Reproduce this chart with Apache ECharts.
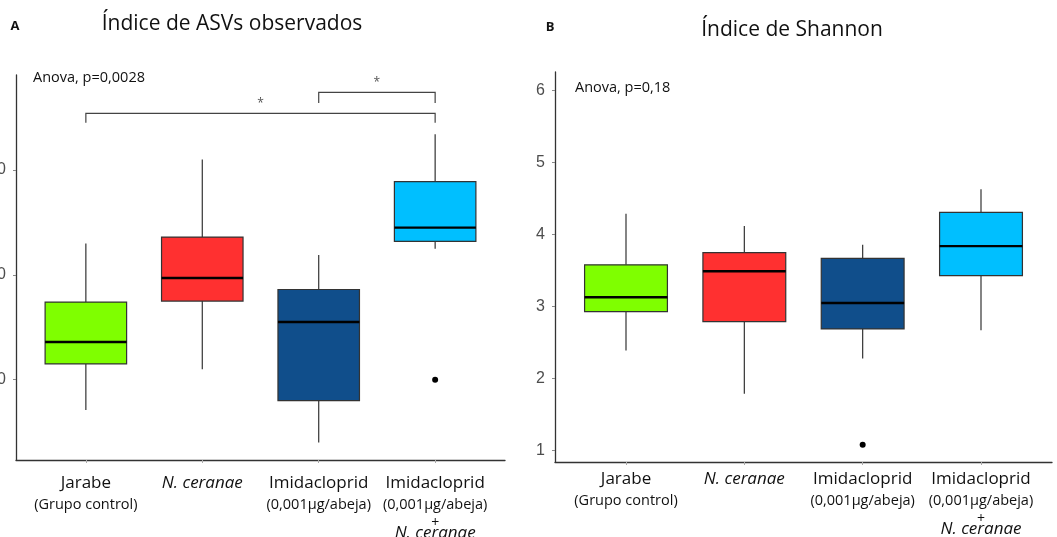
<!DOCTYPE html>
<html>
<head>
<meta charset="utf-8">
<script src="https://cdn.jsdelivr.net/npm/echarts@6/dist/echarts.min.js"></script>
<style>
  html, body { margin: 0; padding: 0; background: #fff; }
  #chart { width: 1057px; height: 537px; }
</style>
</head>
<body>
<div id="chart"></div>
<script>
// groups (x positions 1..4)
var groups = ['Jarabe', 'N. ceranae', 'Imidacloprid', 'Imidacloprid + N. ceranae']
var groupLabels = [
  '{a|Jarabe}\n{b|(Grupo control)}',
  '{i|N. ceranae}',
  '{a|Imidacloprid}\n{b|(0,001μg/abeja)}',
  '{a|Imidacloprid}\n{b|(0,001μg/abeja)}\n{p|+}\n{n|N. ceranae}'
]
var boxColors = ['#7FFF00', '#FF3030', '#104E8B', '#00BFFF']

// [min, q1, median, q3, max]
var asvStats = [
  [71, 115, 136, 174, 230],
  [110, 175, 197, 236, 310],
  [40, 80, 155, 186, 219],
  [225, 232, 245, 289, 334]
]
var asvOutliers = [[4, 100]]
var asvTicks = [100, 200, 300]
// [from group, to group, bar level, drop level, star level]
var asvBrackets = [
  [1, 4, 354, 345, 363],
  [3, 4, 374, 364, 383]
]

var shannonStats = [
  [2.39, 2.93, 3.13, 3.58, 4.29],
  [1.79, 2.79, 3.49, 3.75, 4.12],
  [2.28, 2.69, 3.05, 3.67, 3.86],
  [2.67, 3.43, 3.84, 4.31, 4.63]
]
var shannonOutliers = [[3, 1.08]]
var shannonTicks = [1, 2, 3, 4, 5, 6]

var FONT = '"Open Sans", sans-serif'
var TICKFONT = '"Liberation Sans", Arial, sans-serif'

function boxData(stats) {
  return stats.map(function(s, i) {
    return [i + 1].concat(s)
  })
}

function renderBox(params, api) {
  var x = api.value(0)
  var lo = api.coord([x, api.value(1)])
  var q1 = api.coord([x, api.value(2)])
  var med = api.coord([x, api.value(3)])
  var q3 = api.coord([x, api.value(4)])
  var hi = api.coord([x, api.value(5)])
  var w = api.size([0.7, 0])[0]
  var lineStyle = { stroke: '#333', lineWidth: 1.2 }
  return {
    type: 'group',
    children: [
      { type: 'line', shape: { x1: hi[0], y1: hi[1], x2: q3[0], y2: q3[1] }, style: lineStyle },
      { type: 'line', shape: { x1: lo[0], y1: lo[1], x2: q1[0], y2: q1[1] }, style: lineStyle },
      {
        type: 'rect',
        shape: { x: q3[0] - w / 2, y: q3[1], width: w, height: q1[1] - q3[1] },
        style: { fill: boxColors[params.dataIndex], stroke: '#333', lineWidth: 1.2 }
      },
      {
        type: 'line',
        shape: { x1: med[0] - w / 2, y1: med[1], x2: med[0] + w / 2, y2: med[1] },
        style: { stroke: '#000', lineWidth: 2.4 }
      }
    ]
  }
}

function renderBracket(params, api) {
  var a = api.coord([api.value(0), api.value(2)])
  var b = api.coord([api.value(1), api.value(2)])
  var da = api.coord([api.value(0), api.value(3)])
  var star = api.coord([(api.value(0) + api.value(1)) / 2, api.value(4)])
  return {
    type: 'group',
    children: [
      {
        type: 'polyline',
        shape: { points: [[da[0], da[1]], a, b, [b[0], da[1]]] },
        style: { stroke: '#444', lineWidth: 1.2, fill: null }
      },
      {
        type: 'text',
        x: star[0],
        y: star[1],
        style: { text: '*', fill: '#555', font: '12px ' + FONT, align: 'center', verticalAlign: 'middle' }
      }
    ]
  }
}

var richLabel = {
  a: { fontFamily: FONT, fontSize: 17, color: '#111', lineHeight: 18 },
  b: { fontFamily: FONT, fontSize: 14.5, color: '#111', lineHeight: 25 },
  i: { fontFamily: FONT, fontSize: 17, color: '#111', fontStyle: 'italic', lineHeight: 18 },
  p: { fontFamily: FONT, fontSize: 14, color: '#111', lineHeight: 12 },
  n: { fontFamily: FONT, fontSize: 17, color: '#111', fontStyle: 'italic', lineHeight: 8 }
}

function xAxisCfg(gridIndex, margin) {
  return {
    type: 'value',
    gridIndex: gridIndex,
    min: 0.4,
    max: 4.6,
    splitLine: { show: false },
    axisLine: { show: true, lineStyle: { color: '#333', width: 1.3 } },
    axisTick: { show: true, length: 3, lineStyle: { color: '#aaa' }, customValues: [1, 2, 3, 4] },
    axisLabel: {
      margin: margin,
      customValues: [1, 2, 3, 4],
      formatter: function(v) { return groupLabels[Math.round(v) - 1] || '' },
      rich: richLabel
    }
  }
}

function yAxisCfg(gridIndex, min, max, ticks) {
  return {
    type: 'value',
    gridIndex: gridIndex,
    min: min,
    max: max,
    splitLine: { show: false },
    axisLine: { show: true, lineStyle: { color: '#333', width: 1.3 } },
    axisTick: { show: true, length: 3, lineStyle: { color: '#888' }, customValues: ticks },
    axisLabel: {
      margin: 10,
      customValues: ticks,
      color: '#4d4d4d',
      fontSize: 16,
      fontFamily: TICKFONT
    }
  }
}

var chart = echarts.init(document.getElementById('chart'))
chart.setOption({
  backgroundColor: '#fff',
  animation: false,
  grid: [
    { left: 16, top: 75, width: 489, height: 385, outerBoundsMode: 'none', containLabel: false },
    { left: 555, top: 72, width: 497, height: 390, outerBoundsMode: 'none', containLabel: false }
  ],
  xAxis: [xAxisCfg(0, 14), xAxisCfg(1, 8)],
  yAxis: [
    yAxisCfg(0, 23.4, 390.6, asvTicks),
    yAxisCfg(1, 0.84, 6.26, shannonTicks)
  ],
  graphic: [
    { type: 'text', x: 15, y: 26, style: { text: 'A', font: 'bold 13px ' + FONT, fill: '#111', align: 'center', verticalAlign: 'middle' } },
    { type: 'text', x: 232, y: 24, style: { text: 'Índice de ASVs observados', font: '21px ' + FONT, fill: '#111', align: 'center', verticalAlign: 'middle' } },
    { type: 'text', x: 33, y: 78, style: { text: 'Anova, p=0,0028', font: '14.5px ' + FONT, fill: '#111', verticalAlign: 'middle' } },
    { type: 'text', x: 550, y: 27, style: { text: 'B', font: 'bold 13px ' + FONT, fill: '#111', align: 'center', verticalAlign: 'middle' } },
    { type: 'text', x: 792, y: 30, style: { text: 'Índice de Shannon', font: '21px ' + FONT, fill: '#111', align: 'center', verticalAlign: 'middle' } },
    { type: 'text', x: 575, y: 88, style: { text: 'Anova, p=0,18', font: '14.5px ' + FONT, fill: '#111', verticalAlign: 'middle' } }
  ],
  series: [
    {
      type: 'custom',
      xAxisIndex: 0,
      yAxisIndex: 0,
      renderItem: renderBox,
      encode: { x: 0, y: [1, 2, 3, 4, 5] },
      data: boxData(asvStats)
    },
    {
      type: 'scatter',
      xAxisIndex: 0,
      yAxisIndex: 0,
      symbolSize: 6,
      itemStyle: { color: '#000', opacity: 1 },
      data: asvOutliers
    },
    {
      type: 'custom',
      xAxisIndex: 0,
      yAxisIndex: 0,
      renderItem: renderBracket,
      encode: { x: [0, 1], y: [2, 3, 4] },
      data: asvBrackets
    },
    {
      type: 'custom',
      xAxisIndex: 1,
      yAxisIndex: 1,
      renderItem: renderBox,
      encode: { x: 0, y: [1, 2, 3, 4, 5] },
      data: boxData(shannonStats)
    },
    {
      type: 'scatter',
      xAxisIndex: 1,
      yAxisIndex: 1,
      symbolSize: 6,
      itemStyle: { color: '#000', opacity: 1 },
      data: shannonOutliers
    }
  ]
})
</script>
</body>
</html>
